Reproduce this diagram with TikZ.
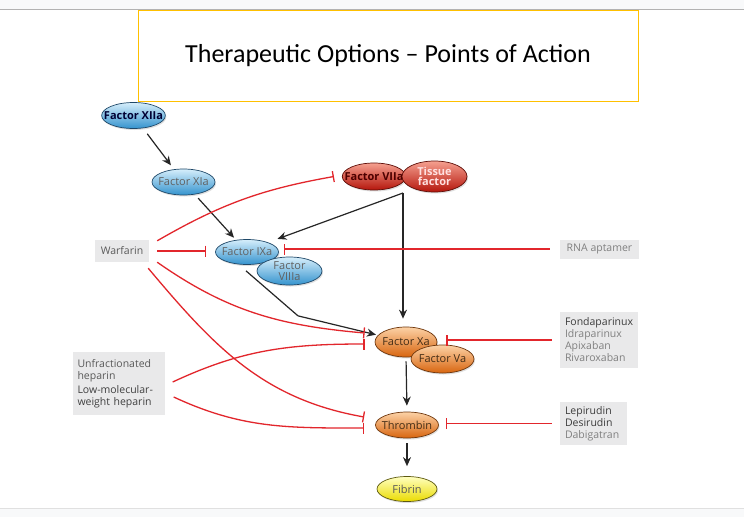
\documentclass[tikz,border=0pt]{standalone}
\usepackage{fontspec}
\setmainfont{Open Sans}
\newfontfamily\titlefont{Carlito}
\usetikzlibrary{shapes.geometric,arrows.meta,shadows}
\definecolor{inhib}{HTML}{E2262C}
\definecolor{titlebox}{HTML}{FFC000}
\definecolor{barbg}{HTML}{F8F9FA}
\definecolor{drugbg}{HTML}{E9E9EA}
\definecolor{drugdark}{HTML}{3C3C3C}
\definecolor{druglight}{HTML}{808080}
\definecolor{bluetop}{HTML}{D6EEFB}
\definecolor{bluemid}{HTML}{86C9F0}
\definecolor{bluebot}{HTML}{3493CE}
\definecolor{blueedge}{HTML}{1F4868}
\definecolor{redtop}{HTML}{F5A090}
\definecolor{redmid}{HTML}{E83A28}
\definecolor{redbot}{HTML}{B5160C}
\definecolor{rededge}{HTML}{5E0E08}
\definecolor{orangetop}{HTML}{FCD2A6}
\definecolor{orangemid}{HTML}{F29445}
\definecolor{orangebot}{HTML}{D8650F}
\definecolor{orangeedge}{HTML}{6E360C}
\definecolor{yellowtop}{HTML}{FFFFC0}
\definecolor{yellowmid}{HTML}{FFF23A}
\definecolor{yellowbot}{HTML}{EADB00}
\definecolor{yellowedge}{HTML}{5E5A10}
\begin{document}
\begin{tikzpicture}[x = 1pt, y = 1pt,
  factor/.style = {ellipse, draw, line width = 0.7pt, inner xsep = -7pt, inner ysep = -4pt, align = center,
    minimum width = 63pt, minimum height = 26pt, font = \fontsize{11}{10.5}\selectfont,
    drop shadow = {opacity = 0.25, shadow xshift = 1pt, shadow yshift = -1.5pt}},
  bluef/.style = {factor, draw = blueedge, top color = bluetop, middle color = bluemid, bottom color = bluebot, text = black!62},
  redf/.style = {factor, draw = rededge, top color = redtop, middle color = redmid, bottom color = redbot, text = black!70!red},
  orangef/.style = {factor, draw = orangeedge, top color = orangetop, middle color = orangemid, bottom color = orangebot, text = black!65!brown},
  yellowf/.style = {factor, draw = yellowedge, top color = yellowtop, middle color = yellowmid, bottom color = yellowbot, text = black!65},
  drug/.style = {fill = drugbg, inner sep = 0pt, align = left, font = \fontsize{10.5}{12}\selectfont},
  act/.style = {-{Stealth[length = 9pt, width = 8pt]}, line width = 1.2pt, black!85},
  inh/.style = {-{Bar[width = 11pt, line width = 1.3pt]}, inhib, line width = 1.3pt}]
\useasboundingbox (0,0) rectangle (744,-517);
\fill[white] (0,0) rectangle (744,-517);
\fill[barbg] (0,0) rectangle (744,-9);
\draw[black!30] (0,-9) -- (744,-9);
\fill[barbg] (0,-508) rectangle (744,-517);
\draw[black!12] (0,-508) -- (744,-508);
\node[draw = titlebox, line width = 1pt, minimum width = 500pt, minimum height = 91pt, inner sep = 0pt,
  font = \titlefont\fontsize{26}{30}\selectfont] at (388,-55.5) (title) {Therapeutic Options – Points of Action};
\node[bluef, text = black!80!blue, font = \fontsize{11}{10.5}\selectfont\bfseries] at (133.5,-115.5) (f12) {Factor XIIa};
\node[bluef] at (183.5,-182) (f11) {Factor XIa};
\node[redf, minimum width = 62pt, minimum height = 27pt, font = \fontsize{11}{10.5}\selectfont\bfseries] at (374,-176.5) (f7) {Factor VIIa};
\node[redf, minimum width = 65pt, minimum height = 31pt, text = red!12, font = \fontsize{11}{10.5}\selectfont\bfseries] at (434.5,-176.5) (tf) {Tissue\\factor};
\node[bluef, minimum height = 25pt] at (247,-252) (f9) {Factor IXa};
\node[bluef, minimum width = 65pt, minimum height = 28pt] at (289.5,-271) (f8) {Factor\\VIIIa};
\node[orangef, minimum width = 62pt, minimum height = 30pt] at (406,-342) (f10) {Factor Xa};
\node[orangef, minimum height = 28pt] at (442.5,-359) (f5) {Factor Va};
\node[orangef] at (407,-425) (thr) {Thrombin};
\node[yellowf, minimum width = 60pt, minimum height = 25pt] at (407,-489) (fib) {Fibrin};
\node[drug, minimum width = 54pt, minimum height = 22pt, text = black!65] at (122,-251) (warf) {Warfarin};
\node[drug, minimum width = 79pt, minimum height = 19pt, text = druglight] at (599.5,-249) (rna) {RNA aptamer};
\node[drug, text width = 68pt, inner xsep = 5pt, minimum height = 56pt] at (599,-340) (fonda)
  {\textcolor{drugdark}{Fondaparinux}\\\textcolor{druglight}{Idraparinux}\\\textcolor{druglight}{Apixaban}\\\textcolor{druglight}{Rivaroxaban}};
\node[drug, text width = 82pt, inner xsep = 5pt, minimum height = 63pt] at (118.5,-383.5) (hep)
  {\textcolor{black!65}{Unfractionated}\\\textcolor{black!65}{heparin}\\[1.5pt]\textcolor{black!75}{Low-molecular-}\\\textcolor{black!75}{weight heparin}};
\node[drug, text width = 57pt, inner xsep = 5pt, minimum height = 43pt] at (593.5,-423.5) (lep)
  {\textcolor{drugdark}{Lepirudin}\\\textcolor{drugdark}{Desirudin}\\\textcolor{druglight}{Dabigatran}};
\coordinate (tfb) at (403,-193);
\draw[act, shorten <= 7pt, shorten >= 5pt] (f12) -- (f11);
\draw[act, shorten <= 5pt, shorten >= 3pt] (f11) -- (f9);
\draw[act] (tfb) -- ([xshift = 8pt, yshift = 4pt]f9.north east);
\draw[act, shorten >= 8pt] (tfb) -- (tfb |- f10.north);
\draw[act, shorten >= 2pt] ([xshift = -1pt, yshift = -6pt]f9.south) -- ++(52,-45) -- (f10);
\draw[act, shorten <= 4pt, shorten >= 6pt] (f10.south) -- (thr.north);
\draw[act, shorten <= 5pt, shorten >= 10pt] (thr.south) -- (fib.north);
\draw[inh] ([xshift = 8pt, yshift = -1pt]warf.north east) to[out = 30, in = 190] ([xshift = -8pt]f7.west);
\draw[inh] ([xshift = 8pt]warf.east) -- ([xshift = -9pt]warf.east -| f9.west);
\draw[inh] ([xshift = 8pt]warf.south east) to[out = -35, in = 175] ([xshift = -10pt, yshift = 9pt]f10.west);
\draw[inh] ([xshift = -1pt, yshift = -6pt]warf.south east) to[out = -50, in = 170] ([xshift = -11pt, yshift = 8pt]thr.west);
\draw[inh] ([xshift = -10pt]rna.west) -- ([xshift = 5pt]rna.west -| f9.east);
\draw[inh] ([xshift = -8pt]fonda.west) -- ([xshift = 9pt]fonda.west -| f10.east);
\draw[inh] ([xshift = 8pt, yshift = 1.5pt]hep.east) to[out = 25, in = 180] ([xshift = -10pt, yshift = -2pt]f10.west);
\draw[inh] ([xshift = 9pt, yshift = -13.5pt]hep.east) to[out = -25, in = 180] ([xshift = -11pt, yshift = -3pt]thr.west);
\draw[inh] ([xshift = -8pt]lep.west) -- ([xshift = 7pt]lep.west -| thr.east);
\end{tikzpicture}
\end{document}
